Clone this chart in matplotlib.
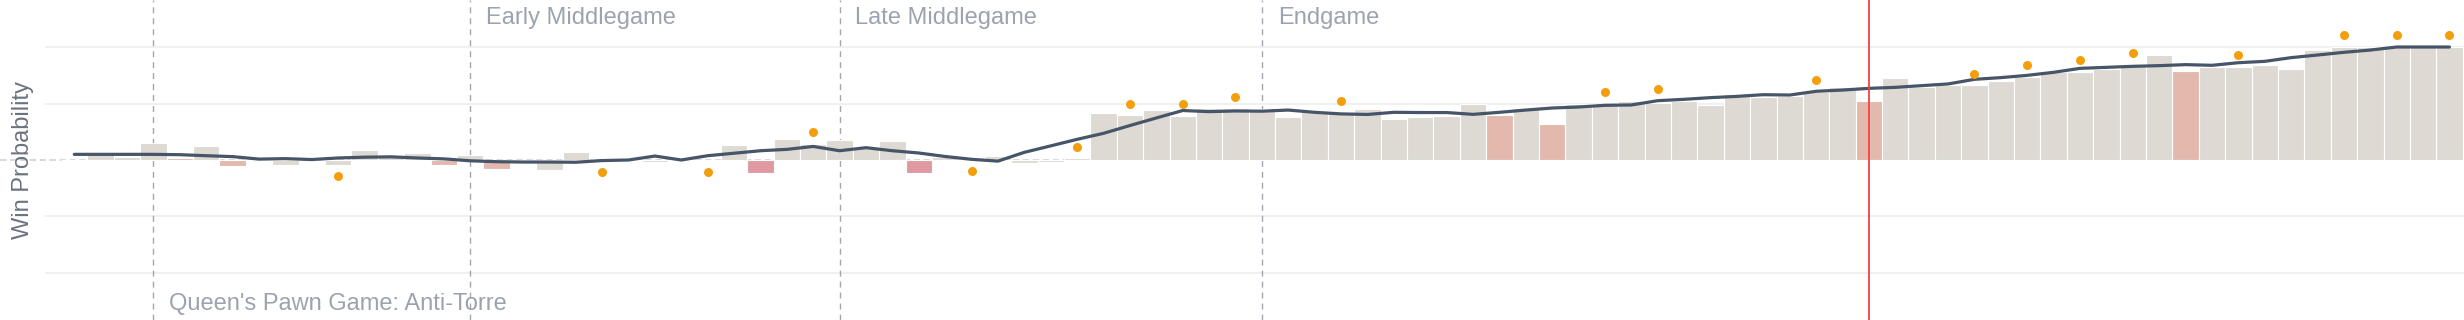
import numpy as np
import matplotlib
matplotlib.use('Agg')
import matplotlib.pyplot as plt

plt.rcParams['font.family'] = ['Liberation Sans', 'DejaVu Sans']

# win probability swing per move (bars)
bar_values = [0, 0.075, 0.03, 0.15, 0.02, 0.12, -0.05, 0, -0.04, 0,
              -0.045, 0.085, 0.03, 0.065, -0.04, 0.04, -0.083, 0, -0.092, 0.07,
              0, 0, -0.022, 0, 0, 0.132, -0.112, 0.19, 0.14, 0.18,
              0.11, 0.168, -0.112, 0.03, 0, 0.035, -0.03, -0.015, 0.015, 0.42,
              0.40, 0.44, 0.392, 0.458, 0.458, 0.45, 0.383, 0.43, 0.413, 0.45,
              0.363, 0.378, 0.392, 0.50, 0.40, 0.46, 0.316, 0.493, 0.496, 0.522,
              0.507, 0.522, 0.484, 0.587, 0.56, 0.565, 0.605, 0.645, 0.522, 0.722,
              0.65, 0.668, 0.66, 0.70, 0.733, 0.782, 0.783, 0.806, 0.845, 0.929,
              0.79, 0.826, 0.826, 0.837, 0.801, 0.972, 1.0, 1.0, 1.0, 1.0, 1.0]

# move quality: n = normal, i = inaccuracy, m = mistake
bar_kind = ['n'] * len(bar_values)
for k in [4, 6, 14, 16, 54, 56, 68, 80]:
    bar_kind[k] = 'i'
for k in [26, 32]:
    bar_kind[k] = 'm'

# smoothed win probability curve
line_values = [0.05, 0.05, 0.05, 0.05, 0.047, 0.038, 0.03, 0.008, 0.012, 0.004,
               0.018, 0.025, 0.028, 0.018, 0.01, -0.007, -0.015, -0.018, -0.018, -0.02,
               -0.005, 0.0, 0.035, 0.0, 0.038, 0.06, 0.082, 0.094, 0.12, 0.082,
               0.109, 0.082, 0.062, 0.031, 0.006, -0.01, 0.068, 0.125, 0.183, 0.236,
               0.305, 0.372, 0.438, 0.428, 0.434, 0.432, 0.442, 0.422, 0.408, 0.403,
               0.422, 0.42, 0.42, 0.404, 0.422, 0.442, 0.46, 0.469, 0.484, 0.487,
               0.525, 0.537, 0.552, 0.563, 0.578, 0.575, 0.608, 0.619, 0.634, 0.643,
               0.658, 0.673, 0.714, 0.729, 0.749, 0.776, 0.811, 0.82, 0.829, 0.835,
               0.844, 0.838, 0.861, 0.873, 0.906, 0.929, 0.953, 0.973, 1.0, 1.0, 1.0]

# orange markers
dot_moves = [10, 20, 24, 28, 34, 38, 40, 42, 44, 48, 58, 60, 66, 72, 74, 76, 78, 82, 86, 88, 90]
dot_values = [-0.145, -0.106, -0.106, 0.245, -0.1, 0.115, 0.499, 0.495, 0.558, 0.518,
              0.599, 0.624, 0.71, 0.761, 0.841, 0.881, 0.946, 0.926, 1.103, 1.103, 1.103]

phase_moves = [3, 15, 29, 45]
phase_labels = ["Queen's Pawn Game: Anti-Torre", 'Early Middlegame', 'Late Middlegame', 'Endgame']
phase_at_bottom = [True, False, False, False]
current_move = 68

colors = {'n': '#dedad3', 'i': '#e3b9ad', 'm': '#df9aa1'}
moves = np.arange(len(bar_values))

fig = plt.figure(figsize=(24.64, 3.2), dpi=100)
left = 45 / 2464
ax = fig.add_axes([left, 0, 1 - left, 1])
ax.set_xlim(-1.11, 90.55)
ax.set_ylim(-1.416, 1.416)
ax.axis('off')

for g in [-1, -0.5, 0.5, 1]:
    ax.axhline(g, color='#efefef', lw=1.3, zorder=0)
ax.axhline(0, xmin=-left / (1 - left), xmax=1, color='#d6d6da', lw=1.3,
           linestyle=(0, (3.5, 2)), clip_on=False, zorder=1)

ax.bar(moves, bar_values, width=1.0, color=[colors[k] for k in bar_kind],
       edgecolor='white', linewidth=0.8, zorder=2)

for m, lab, bottom in zip(phase_moves, phase_labels, phase_at_bottom):
    ax.axvline(m, color='#a3a7b0', lw=1.0, linestyle=(0, (4.3, 3.6)), zorder=1)
    ax.text(m + 0.6, -1.327 if bottom else 1.204, lab, fontsize=17,
            color='#9ca3af', ha='left', va='baseline')

ax.axvline(current_move, color='#ef4444', lw=1.3, zorder=5)

ax.plot(moves, line_values, color='#475569', lw=2.3, zorder=4,
        solid_capstyle='round', solid_joinstyle='round')
ax.scatter(dot_moves, dot_values, s=42, color='#f59e0b', zorder=6, linewidths=0)

fig.text(23 / 2464, 0.5, 'Win Probability', rotation=90, fontsize=17,
         color='#6b7280', ha='center', va='center')

fig.savefig('out.png', dpi=100)
